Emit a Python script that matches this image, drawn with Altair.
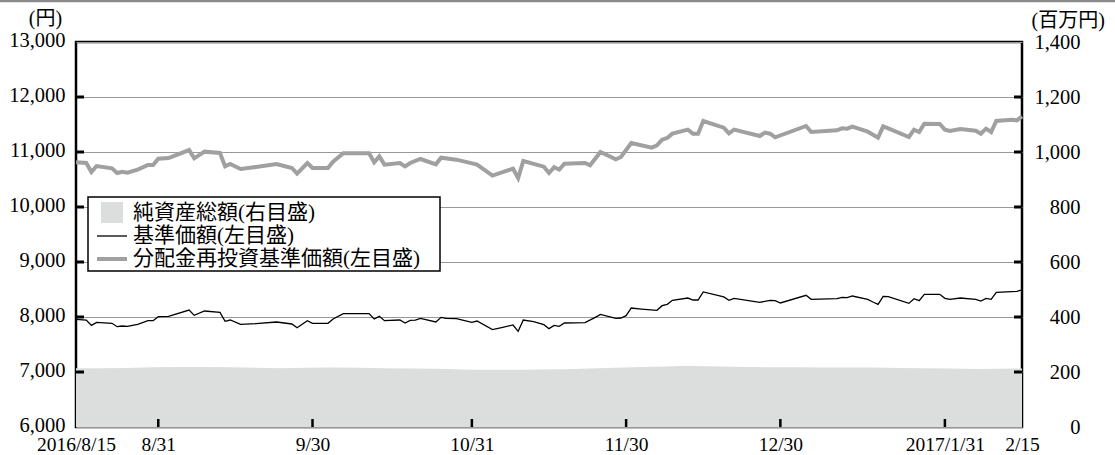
import altair as alt
import pandas as pd

# --- data -------------------------------------------------------------
nav_dates = ["2016/08/15","2016/08/17","2016/08/18","2016/08/19","2016/08/22","2016/08/23","2016/08/24","2016/08/25",
             "2016/08/27","2016/08/29","2016/08/30","2016/08/31","2016/09/02","2016/09/06","2016/09/07","2016/09/09",
             "2016/09/12","2016/09/13","2016/09/14","2016/09/16","2016/09/19","2016/09/23","2016/09/26","2016/09/27",
             "2016/09/29","2016/09/30","2016/10/03","2016/10/04","2016/10/06","2016/10/11","2016/10/12","2016/10/13",
             "2016/10/14","2016/10/17","2016/10/18","2016/10/19","2016/10/20","2016/10/21","2016/10/24","2016/10/25",
             "2016/10/26","2016/10/28","2016/10/31","2016/11/01","2016/11/04","2016/11/06","2016/11/08","2016/11/09",
             "2016/11/10","2016/11/12","2016/11/14","2016/11/15","2016/11/16","2016/11/17","2016/11/18","2016/11/22",
             "2016/11/24","2016/11/25","2016/11/28","2016/11/29","2016/11/30","2016/12/01","2016/12/03","2016/12/06",
             "2016/12/07","2016/12/08","2016/12/09","2016/12/12","2016/12/13","2016/12/14","2016/12/15","2016/12/19",
             "2016/12/20","2016/12/21","2016/12/26","2016/12/28","2016/12/29","2016/12/30","2017/01/04","2017/01/05",
             "2017/01/10","2017/01/11","2017/01/12","2017/01/13","2017/01/16","2017/01/17","2017/01/18","2017/01/19",
             "2017/01/20","2017/01/24","2017/01/25","2017/01/26","2017/01/27","2017/01/30","2017/01/31","2017/02/01",
             "2017/02/03","2017/02/06","2017/02/07","2017/02/08","2017/02/09","2017/02/10","2017/02/14","2017/02/15"]
nav_values = [7958,7945,7848,7903,7885,7824,7836,7830,
              7867,7933,7933,8006,8012,8127,8030,8109,
              8085,7921,7945,7867,7879,7909,7873,7806,
              7933,7885,7885,7964,8061,8061,7964,8012,
              7933,7945,7891,7939,7945,7976,7909,7994,
              7976,7970,7903,7927,7770,7812,7855,7739,
              7945,7915,7861,7788,7848,7830,7891,7897,
              7994,8048,7976,7982,8024,8164,8145,8121,
              8206,8230,8303,8345,8309,8309,8455,8364,
              8303,8339,8267,8303,8297,8255,8394,8321,
              8333,8358,8352,8382,8321,8273,8230,8376,
              8370,8248,8333,8297,8412,8412,8339,8321,
              8345,8321,8291,8339,8321,8448,8467,8491]

reinv_dates = ["2016/08/15","2016/08/17","2016/08/18","2016/08/19","2016/08/22","2016/08/23","2016/08/24","2016/08/25",
               "2016/08/27","2016/08/29","2016/08/30","2016/08/31","2016/09/02","2016/09/06","2016/09/07","2016/09/09",
               "2016/09/12","2016/09/13","2016/09/14","2016/09/16","2016/09/19","2016/09/23","2016/09/26","2016/09/27",
               "2016/09/29","2016/09/30","2016/10/03","2016/10/04","2016/10/06","2016/10/11","2016/10/12","2016/10/13",
               "2016/10/14","2016/10/17","2016/10/18","2016/10/19","2016/10/21","2016/10/24","2016/10/25","2016/10/28",
               "2016/11/01","2016/11/04","2016/11/08","2016/11/09","2016/11/10","2016/11/14","2016/11/15","2016/11/16",
               "2016/11/17","2016/11/18","2016/11/22","2016/11/23","2016/11/25","2016/11/28","2016/11/29","2016/12/01",
               "2016/12/05","2016/12/06","2016/12/07","2016/12/08","2016/12/09","2016/12/12","2016/12/13","2016/12/14",
               "2016/12/15","2016/12/19","2016/12/20","2016/12/21","2016/12/26","2016/12/27","2016/12/28","2016/12/29",
               "2017/01/04","2017/01/05","2017/01/10","2017/01/11","2017/01/12","2017/01/13","2017/01/16","2017/01/18",
               "2017/01/19","2017/01/20","2017/01/24","2017/01/25","2017/01/26","2017/01/27","2017/01/30","2017/01/31",
               "2017/02/01","2017/02/03","2017/02/06","2017/02/07","2017/02/08","2017/02/09","2017/02/10","2017/02/13",
               "2017/02/14","2017/02/15"]
reinv_values = [10812,10800,10636,10745,10703,10618,10642,10624,
                10679,10764,10764,10879,10891,11036,10885,11006,
                10982,10739,10782,10691,10727,10782,10709,10606,
                10800,10709,10709,10824,10976,10976,10812,10921,
                10770,10800,10739,10800,10873,10776,10897,10861,
                10770,10570,10697,10527,10836,10733,10618,10724,
                10679,10788,10800,10758,11000,10867,10909,11164,
                11079,11121,11224,11255,11333,11406,11333,11333,
                11564,11442,11339,11406,11291,11352,11333,11267,
                11473,11364,11394,11430,11424,11461,11370,11261,
                11467,11430,11273,11406,11364,11515,11509,11406,
                11382,11418,11388,11333,11424,11364,11564,11588,
                11576,11648]

asset_dates = ["2016/08/15","2016/08/25","2016/09/04","2016/09/14","2016/09/24","2016/10/04","2016/10/14",
               "2016/10/24","2016/11/03","2016/11/13","2016/11/23","2016/12/03","2016/12/13","2016/12/23",
               "2017/01/02","2017/01/12","2017/01/22","2017/02/01","2017/02/06","2017/02/15"]
asset_values = [214,215,218,217,214,216,214,212,208,209,213,218,222,218,217,216,215,213,211,213]

left_ticks = [6000, 7000, 8000, 9000, 10000, 11000, 12000, 13000]
right_ticks = [0, 200, 400, 600, 800, 1000, 1200, 1400]
date_ticks = ["2016/08/15", "2016/08/31", "2016/09/30", "2016/10/31", "2016/11/30", "2016/12/30", "2017/01/31", "2017/02/15"]

legend_labels = ["純資産総額(右目盛)", "基準価額(左目盛)", "分配金再投資基準価額(左目盛)"]
left_unit = "(円)"
right_unit = "(百万円)"

# --- styling ----------------------------------------------------------
W, H = 946, 385
NUM_FONT = "'Liberation Serif', 'Times New Roman', 'DejaVu Serif', serif"
JP_FONT = "'Liberation Serif', 'Noto Sans CJK JP', serif"
AREA_COLOR = "#dcdddd"
GRAY_LINE = "#a0a0a0"

nav_df = pd.DataFrame({"date": nav_dates, "value": nav_values})
reinv_df = pd.DataFrame({"date": reinv_dates, "value": reinv_values})
asset_df = pd.DataFrame({"date": asset_dates, "value": asset_values})
lt_df = pd.DataFrame({"v": left_ticks[1:-1]})
rt_df = pd.DataFrame({"v": right_ticks[1:-1]})
dt_df = pd.DataFrame({"date": date_ticks[1:-1]})

x_domain = [alt.DateTime(year=2016, month=8, date=15), alt.DateTime(year=2017, month=2, date=15)]
x_scale = alt.Scale(domain=x_domain)
left_scale = alt.Scale(domain=[6000, 13000], nice=False, zero=False)
right_scale = alt.Scale(domain=[0, 1400], nice=False)

x_tick_values = [
    alt.DateTime(year=int(d[:4]), month=int(d[5:7]), date=int(d[8:])) for d in date_ticks
]

x_axis = alt.Axis(
    values=x_tick_values,
    labelExpr="(month(datum.value)==7 && date(datum.value)==15) ? '2016/8/15' : "
              "(month(datum.value)==0 ? '2017/1/31' : (month(datum.value)+1) + '/' + date(datum.value))",
    title=None, grid=False, domain=False, ticks=False, labelPadding=8,
    labelFont=NUM_FONT, labelFontSize=19.5, labelColor="black",
    labelOverlap=False, labelFlush=False, labelBound=False,
)

left_axis = alt.Axis(
    orient="left", values=left_ticks, format=",d", grid=True, gridColor="#999999", gridWidth=1,
    domain=False, ticks=False, labelPadding=11, labelOffset=-2, labelFont=NUM_FONT, labelFontSize=20.5,
    labelColor="black", labelOverlap=False, labelBound=False, labelFlush=False,
    title=left_unit, titleAngle=0, titleX=-31, titleY=-24, titleAlign="center",
    titleBaseline="middle", titleFont=JP_FONT, titleFontSize=20, titleFontWeight="normal",
    titleColor="black",
)

right_axis = alt.Axis(
    orient="right", values=right_ticks, format=",d", grid=False,
    domain=False, ticks=False, labelPadding=58, labelAlign="right", labelFont=NUM_FONT, labelFontSize=20.5,
    labelColor="black", labelOverlap=False, labelBound=False, labelFlush=False,
    title=right_unit, titleAngle=0, titleX=9, titleY=-22, titleAlign="left",
    titleBaseline="middle", titleFont=JP_FONT, titleFontSize=20, titleFontWeight="normal",
    titleColor="black",
)

X = alt.X("date:T", scale=x_scale, axis=x_axis)

area = alt.Chart(asset_df).mark_area(color=AREA_COLOR, opacity=1, interpolate="monotone").encode(
    x=X,
    y=alt.Y("value:Q", scale=right_scale, axis=right_axis),
)

# legend (drawn manually, white box on top of gridlines)
one = pd.DataFrame({"k": [0]})
leg_box = alt.Chart(one).mark_rect(fill="white", stroke="black", strokeWidth=1.5).encode(
    x=alt.value(12), x2=alt.value(364), y=alt.value(155), y2=alt.value(229)
)
leg_sq = alt.Chart(one).mark_rect(fill=AREA_COLOR).encode(
    x=alt.value(25), x2=alt.value(47), y=alt.value(160), y2=alt.value(181)
)
leg_l1 = alt.Chart(one).mark_rule(color="black", strokeWidth=1.3).encode(
    x=alt.value(21), x2=alt.value(51), y=alt.value(194)
)
leg_l2 = alt.Chart(one).mark_rule(color=GRAY_LINE, strokeWidth=4).encode(
    x=alt.value(21), x2=alt.value(51), y=alt.value(217)
)
leg_texts = []
for lab, yy in zip(legend_labels, [171, 194, 217]):
    leg_texts.append(
        alt.Chart(pd.DataFrame({"label": [lab]})).mark_text(
            align="left", baseline="middle", font=JP_FONT, fontSize=21, color="black"
        ).encode(x=alt.value(57), y=alt.value(yy), text="label:N")
    )

nav_line = alt.Chart(nav_df).mark_line(color="black", strokeWidth=1.3).encode(
    x=X,
    y=alt.Y("value:Q", scale=left_scale, axis=None),
)
reinv_line = alt.Chart(reinv_df).mark_line(color=GRAY_LINE, strokeWidth=4).encode(
    x=X,
    y=alt.Y("value:Q", scale=left_scale, axis=left_axis),
)

# inward ticks
lticks = alt.Chart(lt_df).mark_rule(color="black", strokeWidth=3).encode(
    x=alt.value(0), x2=alt.value(8), y=alt.Y("v:Q", scale=left_scale, axis=None)
)
rticks = alt.Chart(rt_df).mark_rule(color="black", strokeWidth=3).encode(
    x=alt.value(W - 8), x2=alt.value(W), y=alt.Y("v:Q", scale=right_scale, axis=None)
)
bticks = alt.Chart(dt_df).mark_rule(color="black", strokeWidth=2.5).encode(
    x=X, y=alt.value(H), y2=alt.value(H - 8)
)
top_rule = alt.Chart(one).mark_rule(color="#8a8a8a", strokeWidth=2.5).encode(
    x=alt.value(-80), x2=alt.value(1050), y=alt.value(-41)
)

chart = alt.layer(
    area, leg_box, leg_sq, leg_l1, leg_l2, *leg_texts, nav_line, reinv_line,
    lticks, rticks, bticks, top_rule,
).resolve_scale(y="independent").properties(
    width=W, height=H,
    autosize=alt.AutoSizeParams(type="none"),
    padding={"left": 76, "top": 42, "right": 93, "bottom": 28},
    background="white",
).configure_view(
    stroke="black", strokeWidth=2.5
)

chart.save("out.html", embed_options={"renderer": "svg", "actions": False})
